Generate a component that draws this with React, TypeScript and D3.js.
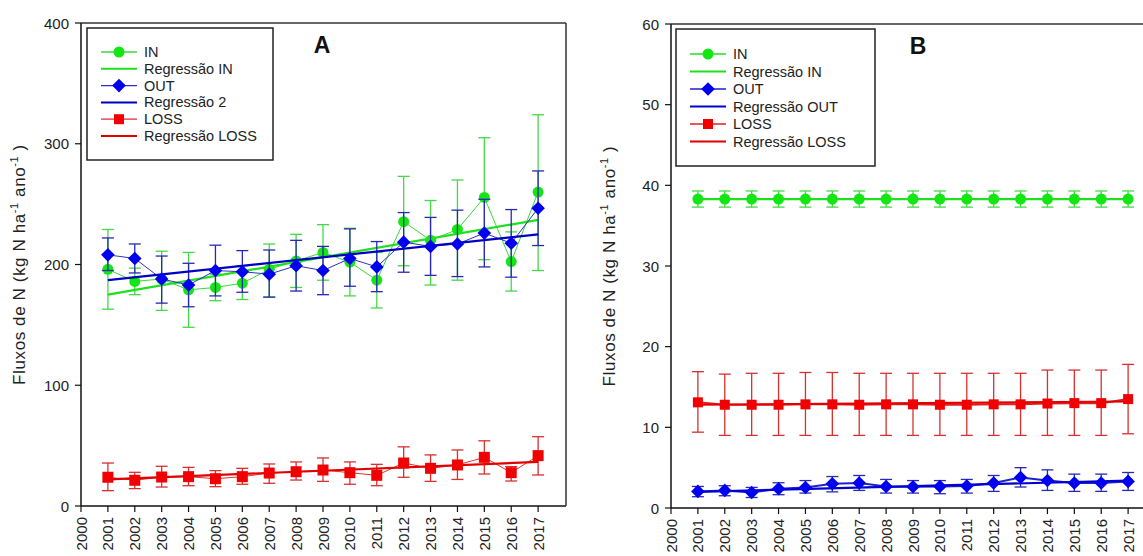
import * as d3 from "d3";
import { useEffect } from "react";

// years on the x axis
const YEARS = [2001, 2002, 2003, 2004, 2005, 2006, 2007, 2008, 2009, 2010, 2011, 2012, 2013, 2014, 2015, 2016, 2017];
const X_TICKS = [2000, 2001, 2002, 2003, 2004, 2005, 2006, 2007, 2008, 2009, 2010, 2011, 2012, 2013, 2014, 2015, 2016, 2017];
const REG_YEARS = [2001, 2017];

// panel A
const A_IN = [196, 186, 188, 179, 181, 184.5, 196, 203, 210, 202, 187, 235.5, 220, 229, 255.5, 202.4, 260];
const A_IN_LO = [163, 175, 162, 148, 170, 171, 173, 181, 187, 174, 164, 199, 183, 187, 204, 178, 195];
const A_IN_HI = [229, 197, 211, 210, 192, 199, 217, 225, 233, 230, 210, 273, 253, 270, 305, 227, 324];
const A_OUT = [208, 205, 188, 183, 195, 194, 192, 199, 195, 205, 198, 218.5, 215, 217, 226, 217.6, 246.6];
const A_OUT_LO = [195, 193, 168, 165, 174, 177, 173, 178, 175, 182, 177.5, 193.6, 191, 190, 198, 189.5, 215.7];
const A_OUT_HI = [222, 217, 207, 201, 216, 211.5, 212, 220, 215, 229.5, 219, 243, 239, 245, 254, 245.5, 277.5];
const A_LOSS = [23.8, 21.3, 24, 24.3, 22.6, 24.3, 27.3, 28.4, 29.8, 27.6, 25.4, 35.6, 31.2, 34, 40.3, 27.6, 41.7];
const A_LOSS_LO = [12.7, 14.4, 15.7, 16.8, 16, 18, 18.8, 21.5, 20.4, 18, 16.8, 23.8, 20.4, 22, 26.5, 20.7, 25.7];
const A_LOSS_HI = [35.6, 27.9, 32.9, 32, 29.3, 31.2, 34.8, 36.5, 39.8, 36.5, 34.5, 49, 42.3, 46.4, 54, 32.6, 57.4];
const A_REG_IN = [175, 237];
const A_REG_OUT = [187, 225];
const A_REG_LOSS = [22, 36.5];
const A_Y_TICKS = [0, 100, 200, 300, 400];
const A_LEGEND = ["IN", "Regressão IN", "OUT", "Regressão 2", "LOSS", "Regressão LOSS"];

// panel B
const B_IN = [38.3, 38.3, 38.3, 38.3, 38.3, 38.3, 38.3, 38.3, 38.3, 38.3, 38.3, 38.3, 38.3, 38.3, 38.3, 38.3, 38.3];
const B_IN_LO = [37.3, 37.3, 37.3, 37.3, 37.3, 37.3, 37.3, 37.3, 37.3, 37.3, 37.3, 37.3, 37.3, 37.3, 37.3, 37.3, 37.3];
const B_IN_HI = [39.3, 39.3, 39.3, 39.3, 39.3, 39.3, 39.3, 39.3, 39.3, 39.3, 39.3, 39.3, 39.3, 39.3, 39.3, 39.3, 39.3];
const B_OUT = [2.06, 2.18, 1.93, 2.39, 2.55, 3.0, 3.09, 2.67, 2.63, 2.67, 2.72, 3.09, 3.79, 3.4, 3.09, 3.09, 3.3];
const B_OUT_LO = [1.4, 1.52, 1.3, 1.65, 1.85, 2.0, 2.18, 1.85, 1.85, 1.77, 1.85, 2.06, 2.6, 2.18, 2.06, 2.06, 2.18];
const B_OUT_HI = [2.67, 2.76, 2.55, 3.13, 3.4, 3.9, 4.03, 3.54, 3.4, 3.4, 3.54, 4.03, 5.0, 4.73, 4.2, 4.2, 4.4];
const B_LOSS = [13.1, 12.8, 12.8, 12.8, 12.85, 12.85, 12.8, 12.85, 12.85, 12.8, 12.8, 12.85, 12.85, 12.95, 13.0, 13.0, 13.5];
const B_LOSS_LO = [9.4, 9.0, 9.0, 9.0, 9.0, 9.0, 9.0, 9.0, 9.0, 9.0, 9.0, 9.0, 9.0, 9.0, 9.0, 9.0, 9.2];
const B_LOSS_HI = [16.9, 16.6, 16.7, 16.7, 16.8, 16.8, 16.7, 16.7, 16.7, 16.7, 16.7, 16.7, 16.7, 17.1, 17.1, 17.1, 17.8];
const B_REG_IN = [38.3, 38.3];
const B_REG_OUT = [2.0, 3.4];
const B_REG_LOSS = [12.8, 13.2];
const B_Y_TICKS = [0, 10, 20, 30, 40, 50, 60];
const B_LEGEND = ["IN", "Regressão IN", "OUT", "Regressão OUT", "LOSS", "Regressão LOSS"];

const FONT = "'Liberation Sans', Arial, sans-serif";
const GREEN = "#14e614";
const BLUE = "#0000f0";
const RED = "#f00000";

type Kind = "circle" | "diamond" | "square";

type Series = {
  vals: number[];
  lo: number[];
  hi: number[];
  reg: number[];
  kind: Kind;
  fill: string;
  err: string;
  line: string;
  regColor: string;
};

function Marker({ kind, x, y, fill, s }: { kind: Kind; x: number; y: number; fill: string; s: number }) {
  if (kind === "circle") return <circle cx={x} cy={y} r={s * 0.55} fill={fill} />;
  if (kind === "square")
    return <rect x={x - s / 2} y={y - s / 2} width={s} height={s} fill={fill} />;
  const h = s * 0.68;
  return <path d={`M${x},${y - h}L${x + h},${y}L${x},${y + h}L${x - h},${y}Z`} fill={fill} />;
}

type PanelProps = {
  left: number;
  top: number;
  right: number;
  bottom: number;
  xMax: number;
  yMax: number;
  yTicks: number[];
  letter: string;
  letterX: number;
  series: Series[];
  legend: string[];
  legendBox: { x: number; y: number; w: number; h: number; row: number; first: number };
  dataWidth: number;
  squareSize: number;
  rightBorder: boolean;
};

function Panel(p: PanelProps) {
  const x = d3.scaleLinear().domain([2000, 2018]).range([p.left, p.xMax]);
  const y = d3.scaleLinear().domain([0, p.yMax]).range([p.bottom, p.top]);
  const line = d3
    .line<number>()
    .x((_, i) => x(YEARS[i]))
    .y((d) => y(d));
  const regLine = d3
    .line<number>()
    .x((_, i) => x(REG_YEARS[i]))
    .y((d) => y(d));
  const cy = (p.top + p.bottom) / 2;
  const titleX = p.left - 56;
  const lb = p.legendBox;

  return (
    <g fontFamily={FONT}>
      {/* frame */}
      <line x1={p.left} y1={p.top} x2={p.right} y2={p.top} stroke="#333" strokeWidth={1.5} />
      <line x1={p.left} y1={p.top} x2={p.left} y2={p.bottom} stroke="#111" strokeWidth={1.5} />
      <line x1={p.left} y1={p.bottom} x2={p.right} y2={p.bottom} stroke="#111" strokeWidth={1.5} />
      {p.rightBorder && <line x1={p.right} y1={p.top} x2={p.right} y2={p.bottom} stroke="#333" strokeWidth={1.5} />}

      {/* y ticks */}
      {p.yTicks.map((t) => (
        <g key={t}>
          <line x1={p.left - 6} x2={p.left} y1={y(t)} y2={y(t)} stroke="#111" strokeWidth={1.2} />
          <text x={p.left - 12} y={y(t)} textAnchor="end" dominantBaseline="central" fontSize={15} fill="#222">
            {t}
          </text>
        </g>
      ))}

      {/* x ticks */}
      {X_TICKS.map((t) => (
        <g key={t}>
          <line x1={x(t)} x2={x(t)} y1={p.bottom} y2={p.bottom + 6} stroke="#111" strokeWidth={1.2} />
          <text
            transform={`translate(${x(t)},${p.bottom + 11}) rotate(-90)`}
            textAnchor="end"
            dominantBaseline="central"
            fontSize={15}
            fill="#222"
          >
            {t}
          </text>
        </g>
      ))}

      {/* y title */}
      <text
        transform={`translate(${titleX},${cy}) rotate(-90)`}
        textAnchor="middle"
        fontSize={17}
        letterSpacing={0.6}
        fill="#222"
      >
        Fluxos de N (kg N ha
        <tspan dy={-7} fontSize={11}>-1</tspan>
        <tspan dy={7}>  ano</tspan>
        <tspan dy={-7} fontSize={11}>-1</tspan>
        <tspan dy={7}> )</tspan>
      </text>

      {/* panel letter */}
      <text x={p.letterX} y={p.top + 30} textAnchor="middle" fontSize={23} fontWeight="bold" fill="#111">
        {p.letter}
      </text>

      {/* series */}
      {p.series.map((s, si) => (
        <g key={si}>
          {s.vals.map((v, i) => {
            const xx = x(YEARS[i]);
            return (
              <g key={i} stroke={s.err} strokeWidth={1.3}>
                <line x1={xx} x2={xx} y1={y(s.lo[i])} y2={y(s.hi[i])} />
                <line x1={xx - 6} x2={xx + 6} y1={y(s.lo[i])} y2={y(s.lo[i])} />
                <line x1={xx - 6} x2={xx + 6} y1={y(s.hi[i])} y2={y(s.hi[i])} />
              </g>
            );
          })}
          <path d={line(s.vals) ?? ""} fill="none" stroke={s.line} strokeWidth={p.dataWidth} />
          <path d={regLine(s.reg) ?? ""} fill="none" stroke={s.regColor} strokeWidth={2.2} />
          {s.vals.map((v, i) => (
            <Marker
              key={i}
              kind={s.kind}
              x={x(YEARS[i])}
              y={y(v)}
              fill={s.fill}
              s={s.kind === "square" ? p.squareSize : 10}
            />
          ))}
        </g>
      ))}

      {/* legend */}
      <rect x={lb.x} y={lb.y} width={lb.w} height={lb.h} fill="#fff" stroke="#222" strokeWidth={1.5} />
      {p.legend.map((label, i) => {
        const s = p.series[Math.floor(i / 2)];
        const ry = lb.y + lb.first + i * lb.row;
        const isReg = i % 2 === 1;
        return (
          <g key={label}>
            <line
              x1={lb.x + 14}
              x2={lb.x + 50}
              y1={ry}
              y2={ry}
              stroke={isReg ? s.regColor : s.line}
              strokeWidth={isReg ? 2 : 1.3}
            />
            {!isReg && <Marker kind={s.kind} x={lb.x + 32} y={ry} fill={s.fill} s={10} />}
            <text x={lb.x + 57} y={ry} dominantBaseline="central" fontSize={14.5} fill="#222">
              {label}
            </text>
          </g>
        );
      })}
    </g>
  );
}

export default function App() {
  useEffect(() => {
    document.body.style.margin = "0";
  }, []);

  const seriesA: Series[] = [
    { vals: A_IN, lo: A_IN_LO, hi: A_IN_HI, reg: A_REG_IN, kind: "circle", fill: GREEN, err: "#45d845", line: "#3ad83a", regColor: "#1ee01e" },
    { vals: A_OUT, lo: A_OUT_LO, hi: A_OUT_HI, reg: A_REG_OUT, kind: "diamond", fill: BLUE, err: "#2828b4", line: "#3030c0", regColor: "#0000c0" },
    { vals: A_LOSS, lo: A_LOSS_LO, hi: A_LOSS_HI, reg: A_REG_LOSS, kind: "square", fill: RED, err: "#d83030", line: "#e03030", regColor: "#e00000" },
  ];
  const seriesB: Series[] = [
    { vals: B_IN, lo: B_IN_LO, hi: B_IN_HI, reg: B_REG_IN, kind: "circle", fill: GREEN, err: "#45d845", line: "#1ee01e", regColor: "#1ee01e" },
    { vals: B_OUT, lo: B_OUT_LO, hi: B_OUT_HI, reg: B_REG_OUT, kind: "diamond", fill: BLUE, err: "#2828b4", line: "#2020c8", regColor: "#0000d0" },
    { vals: B_LOSS, lo: B_LOSS_LO, hi: B_LOSS_HI, reg: B_REG_LOSS, kind: "square", fill: RED, err: "#d83030", line: "#e02020", regColor: "#e00000" },
  ];

  return (
    <svg width={1143} height={556} style={{ display: "block", background: "#fff" }}>
      <Panel
        left={81}
        top={23}
        right={566}
        bottom={506}
        xMax={565}
        yMax={400}
        yTicks={A_Y_TICKS}
        letter="A"
        letterX={322}
        series={seriesA}
        legend={A_LEGEND}
        legendBox={{ x: 87, y: 28, w: 186, h: 132, row: 16.8, first: 24 }}
        dataWidth={1}
        squareSize={11}
        rightBorder={true}
      />
      <Panel
        left={671}
        top={24}
        right={1143}
        bottom={508}
        xMax={1155}
        yMax={60}
        yTicks={B_Y_TICKS}
        letter="B"
        letterX={918}
        series={seriesB}
        legend={B_LEGEND}
        legendBox={{ x: 676, y: 29, w: 199, h: 137, row: 17.5, first: 25 }}
        dataWidth={2}
        squareSize={10}
        rightBorder={false}
      />
    </svg>
  );
}
